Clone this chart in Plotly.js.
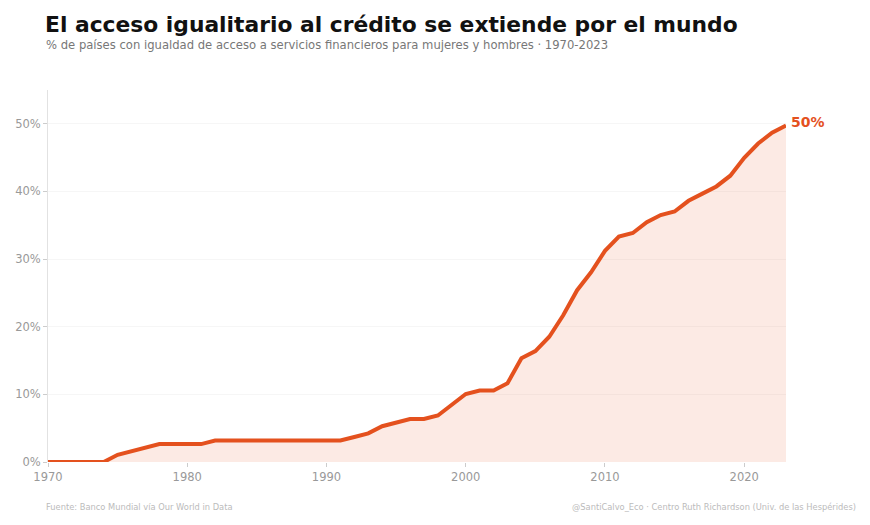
<!DOCTYPE html>
<html>
<head>
<meta charset="utf-8">
<script src="https://cdn.plot.ly/plotly-3.0.1.min.js"></script>
<style>html,body{margin:0;padding:0;background:#fff;}#chart{width:870px;height:525px;}</style>
</head>
<body>
<div id="chart"></div>
<script>
const years = [];
for (let y = 1970; y <= 2023; y++) years.push(y);
const shareEqual = [
  0, 0, 0, 0, 0,
  1.06, 1.59, 2.12, 2.65, 2.65,
  2.65, 2.65, 3.17, 3.17, 3.17,
  3.17, 3.17, 3.17, 3.17, 3.17,
  3.17, 3.17, 3.70, 4.23, 5.29,
  5.82, 6.35, 6.35, 6.88, 8.47,
  10.05, 10.58, 10.58, 11.64, 15.34,
  16.40, 18.52, 21.69, 25.40, 28.04,
  31.22, 33.33, 33.86, 35.45, 36.51,
  37.04, 38.62, 39.68, 40.74, 42.33,
  44.97, 47.09, 48.68, 49.74
];
const xTicks = [1970, 1980, 1990, 2000, 2010, 2020];
const yTicks = [0, 10, 20, 30, 40, 50];
const yTickLabels = ["0%", "10%", "20%", "30%", "40%", "50%"];
const lastLabel = "50%";

const orange = "#E4511E";
const font = "DejaVu Sans, sans-serif";

const trace = {
  x: years, y: shareEqual, type: "scatter", mode: "lines",
  line: {color: orange, width: 4},
  fill: "tozeroy", fillcolor: "rgba(228,81,30,0.12)",
  hoverinfo: "skip"
};

const layout = {
  width: 870, height: 525,
  margin: {l: 48, r: 84, t: 90, b: 63},
  paper_bgcolor: "#fff", plot_bgcolor: "#fff",
  showlegend: false,
  font: {family: font, color: "#999"},
  title: {
    text: "<b>El acceso igualitario al crédito se extiende por el mundo</b>",
    x: 45/870, xanchor: "left", xref: "container", y: 1 - 24/525, yref: "container", yanchor: "middle",
    font: {family: font, size: 21.8, color: "#111"}
  },
  xaxis: {
    range: [1970, 2023], tickvals: xTicks, ticktext: xTicks.map(String),
    showgrid: false, zeroline: false, showline: false,
    ticks: "outside", ticklen: 4, tickcolor: "#ccc",
    tickfont: {family: font, size: 11.5, color: "#999"}
  },
  yaxis: {
    range: [0, 55], tickvals: yTicks, ticktext: yTickLabels,
    showgrid: true, gridcolor: "#f6f6f6", zeroline: false,
    showline: true, linecolor: "#e2e2e2", linewidth: 1,
    ticks: "outside", ticklen: 4, tickcolor: "#ccc",
    tickfont: {family: font, size: 11.5, color: "#999"}
  },
  annotations: [
    {
      text: "% de países con igualdad de acceso a servicios financieros para mujeres y hombres · 1970-2023",
      xref: "paper", yref: "paper", x: -4/738, y: 1 + 45/372, xanchor: "left", yanchor: "middle",
      showarrow: false, font: {family: font, size: 11.6, color: "#777"}
    },
    {
      text: "<b>" + lastLabel + "</b>",
      x: years[years.length - 1], y: shareEqual[shareEqual.length - 1],
      xref: "x", yref: "y", xanchor: "left", yanchor: "middle", xshift: 3, yshift: 4,
      showarrow: false, font: {family: font, size: 14, color: orange}
    },
    {
      text: "Fuente: Banco Mundial vía Our World in Data",
      xref: "paper", yref: "paper", x: -4/738, y: -45/372, xanchor: "left", yanchor: "middle",
      showarrow: false, font: {family: font, size: 8.3, color: "#bbb"}
    },
    {
      text: "@SantiCalvo_Eco · Centro Ruth Richardson (Univ. de las Hespérides)",
      xref: "paper", yref: "paper", x: (858-48)/738, y: -45/372, xanchor: "right", yanchor: "middle",
      showarrow: false, font: {family: font, size: 8.3, color: "#bbb"}
    }
  ]
};

Plotly.newPlot("chart", [trace], layout, {displayModeBar: false, staticPlot: true});
</script>
</body>
</html>
